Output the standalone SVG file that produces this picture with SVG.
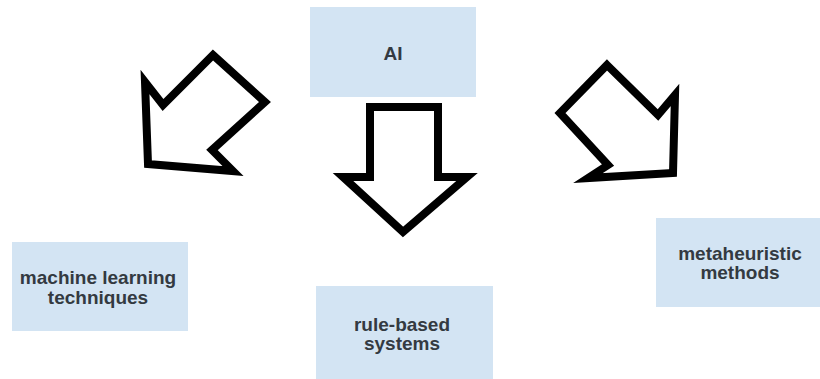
<svg xmlns="http://www.w3.org/2000/svg" width="820" height="379" viewBox="0 0 820 379">
  <style>
    .box { fill: #d3e4f3; }
    .label { font-family: "Liberation Sans", Arial, sans-serif; font-weight: bold; font-size: 19px; fill: #333a41; text-anchor: middle; }
    .arrow { fill: #ffffff; stroke: #000000; stroke-width: 8; stroke-linejoin: miter; stroke-miterlimit: 10; }
  </style>
  <rect width="820" height="379" fill="#ffffff"/>

  <!-- nodes -->
  <g id="ai">
    <rect class="box" x="310" y="7" width="166" height="90"/>
    <text class="label" x="393" y="60">AI</text>
  </g>
  <g id="machine-learning">
    <rect class="box" x="12" y="242" width="176" height="89"/>
    <text class="label" x="98" y="284">machine learning</text>
    <text class="label" x="98" y="304">techniques</text>
  </g>
  <g id="rule-based">
    <rect class="box" x="316" y="286" width="177" height="93"/>
    <text class="label" x="402" y="331">rule-based</text>
    <text class="label" x="402" y="350">systems</text>
  </g>
  <g id="metaheuristic">
    <rect class="box" x="656" y="218" width="164" height="89"/>
    <text class="label" x="740" y="260">metaheuristic</text>
    <text class="label" x="740" y="279">methods</text>
  </g>

  <!-- connectors: block arrows from AI to each branch -->
  <g id="connectors">
    <polygon class="arrow" points="213,55 265,102 212,150 233,171 148,164 145,82 163,105"/>
    <polygon class="arrow" points="370,107 438,107 438,177 467,177 403,232 343,177 370,177"/>
    <polygon class="arrow" points="607,65 658,115 675,95 673,173 588,178 608,165 560,113"/>
  </g>
</svg>
